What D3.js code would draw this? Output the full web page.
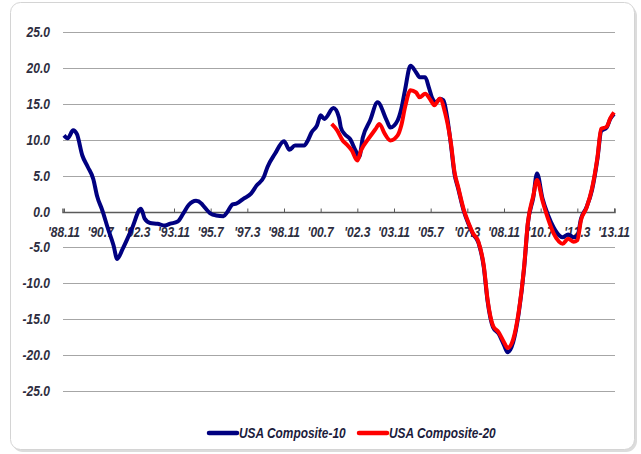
<!DOCTYPE html>
<html>
<head>
<meta charset="utf-8">
<script src="https://cdn.jsdelivr.net/npm/d3@7"></script>
<style>
  body { margin: 0; background: #fff; }
  svg text { font-family: "Liberation Sans", Arial, sans-serif; font-weight: bold; font-style: italic; }
</style>
</head>
<body>
<div id="chart"></div>
<script>
// month index counted from Nov 1988 (0) to Nov 2013 (300)
var tickMonths = [0, 20, 40, 60, 80, 100, 120, 140, 160, 180, 200, 220, 240, 260, 280, 300];
var tickLabels = ["'88.11", "'90.7", "'92.3", "'93.11", "'95.7", "'97.3", "'98.11", "'00.7",
                  "'02.3", "'03.11", "'05.7", "'07.3", "'08.11", "'10.7", "'12.3", "'13.11"];
var yTicks = [25, 20, 15, 10, 5, 0, -5, -10, -15, -20, -25];

// USA Composite-10 (YoY %)
var c10Month = [0, 2, 5, 7, 10, 13, 16, 18, 21, 24, 27, 29, 32, 37, 42, 44, 47, 51, 55, 58, 62, 65, 68, 72, 75, 76,
                80, 83, 87, 89, 92, 94, 98, 102, 105, 109, 111, 115, 120, 123, 126, 131, 133, 135, 138, 140, 142,
                147, 150, 151, 153, 156, 159, 161, 163, 167, 171, 176, 178, 182, 184, 186, 189, 192, 194, 197, 199,
                201, 203, 205, 207, 209, 211, 213, 215, 218, 221, 223, 226, 229, 231, 234, 237, 240, 242, 245,
                248, 251, 253, 256, 258, 261, 264, 267, 270, 272, 275, 278, 280, 282, 285, 288, 291, 293, 296, 298, 300];
var c10Value = [10.6, 10.2, 11.3, 10.8, 7.8, 6.2, 4.5, 2.2, 0.1, -2.4, -4.7, -6.6, -5.2, -2.4, 0.4, -1.0, -1.6, -1.7, -1.95,
                -1.7, -1.4, -0.3, 0.9, 1.5, 1.1, 0.8, -0.3, -0.55, -0.65, -0.1, 1.0, 1.1, 1.8, 2.5, 3.6, 4.8, 6.2, 8.0,
                9.8, 8.6, 9.2, 9.2, 9.9, 11.0, 12.0, 13.4, 12.9, 14.4, 13.1, 11.7, 10.8, 10.1, 8.5, 7.6, 10.3, 12.7,
                15.2, 12.7, 11.7, 12.7, 14.3, 16.9, 20.3, 19.4, 18.7, 18.7, 17.3, 15.7, 15.2, 15.7, 15.5, 13.1, 9.4,
                5.25, 3.2, 0.1, -1.95, -3.1, -4.3, -7.8, -12.4, -16.1, -17.0, -18.6, -19.6, -18.2, -14.2, -7.8, -1.7,
                2.0, 5.3, 1.8, -0.5, -2.2, -3.3, -3.6, -3.2, -3.6, -3.4, -1.0, 0.6, 3.0, 7.4, 11.2, 11.7, 12.9, 13.6];

// USA Composite-20 (YoY %), starts Jan 2001
var c20Month = [146, 149, 152, 154, 157, 160, 162, 166, 170, 172, 175, 178, 182, 184, 186, 189, 192, 194, 197, 200,
                202, 205, 208, 211, 213, 215, 218, 221, 223, 226, 229, 231, 234, 237, 240, 242, 245, 248, 251, 253,
                256, 258, 261, 264, 267, 270, 272, 275, 278, 280, 282, 285, 288, 291, 293, 296, 298, 300];
var c20Value = [12.2, 11.3, 9.9, 9.4, 8.5, 7.1, 8.5, 10.1, 11.5, 12.2, 10.8, 9.9, 10.6, 12.0, 14.5, 16.9, 16.6, 15.9,
                16.4, 15.5, 14.8, 15.7, 13.6, 9.6, 5.5, 3.4, 0.3, -1.8, -3.0, -4.2, -7.6, -12.2, -15.9, -16.8, -18.2,
                -19.0, -17.8, -14.0, -7.6, -1.6, 2.2, 4.4, 1.5, -1.0, -3.0, -4.2, -4.5, -3.8, -4.2, -4.0, -1.2, 0.5,
                3.2, 7.6, 11.5, 11.8, 13.0, 13.8];

var seriesNames = ["USA Composite-10", "USA Composite-20"];
var seriesColors = ["#000080", "#ff0000"];

var W = 641, H = 454;
var svg = d3.select("#chart").append("svg").attr("width", W).attr("height", H);

// narrow text: squeeze horizontally around the anchor point
function narrowText(sel, sx) {
    sel.attr("transform", function(d) {
        var t = d3.select(this);
        return "translate(" + t.attr("x") + "," + t.attr("y") + ") scale(" + sx + ",1)";
    }).attr("x", 0).attr("y", 0);
}

// frame with a soft shadow
svg.append("rect").attr("x", 12).attr("y", 5).attr("width", 625).attr("height", 447)
    .attr("rx", 11).attr("fill", "#dcdcdc");
svg.append("rect").attr("x", 10.5).attr("y", 2.5).attr("width", 624).attr("height", 447)
    .attr("rx", 10).attr("fill", "#fff").attr("stroke", "#d4d4d4");

var x = d3.scaleLinear().domain([0, 300]).range([64, 614]);
var y = d3.scaleLinear().domain([-25, 25]).range([391, 32]);

// gridlines
svg.append("g").selectAll("line").data(yTicks.filter(function(d) { return d !== 0; })).join("line")
    .attr("x1", 63).attr("x2", 615)
    .attr("y1", function(d) { return Math.round(y(d)) + 0.5; })
    .attr("y2", function(d) { return Math.round(y(d)) + 0.5; })
    .attr("stroke", "#a6a6a6").attr("stroke-width", 1);

// y labels
svg.append("g").selectAll("text").data(yTicks).join("text")
    .attr("x", 50).attr("y", function(d) { return y(d) + 5; })
    .attr("text-anchor", "end").attr("font-size", 14).attr("fill", "#2e2e40")
    .text(function(d) { return d.toFixed(1); })
    .call(narrowText, 0.86);

// x axis on zero line, ticks pointing up
var xAxis = d3.axisTop(x).tickValues(tickMonths).tickSize(4).tickFormat("");
var gx = svg.append("g").attr("transform", "translate(0," + (Math.round(y(0)) + 0.5) + ")").call(xAxis);
gx.select(".domain").attr("stroke", "#5a5a5a").attr("stroke-width", 1.5).attr("d", "M63,-4V0H615V-4");
gx.selectAll(".tick line").attr("stroke", "#5a5a5a");

svg.append("g").selectAll("text").data(tickMonths).join("text")
    .attr("x", function(d) { return x(d); }).attr("y", y(0) + 25)
    .attr("text-anchor", "middle").attr("font-size", 15).attr("fill", "#2e2e40")
    .text(function(d, i) { return tickLabels[i]; })
    .call(narrowText, 0.8);

// lines
var line = d3.line()
    .x(function(d) { return x(d[0]); })
    .y(function(d) { return y(d[1]); })
    .curve(d3.curveMonotoneX);

var s10 = c10Month.map(function(m, i) { return [m, c10Value[i]]; });
var s20 = c20Month.map(function(m, i) { return [m, c20Value[i]]; });

svg.append("path").datum(s10).attr("d", line).attr("fill", "none")
    .attr("stroke", seriesColors[0]).attr("stroke-width", 4).attr("stroke-linejoin", "round");
svg.append("path").datum(s20).attr("d", line).attr("fill", "none")
    .attr("stroke", seriesColors[1]).attr("stroke-width", 4).attr("stroke-linejoin", "round");

// legend
var legendX = [209, 359];
var lg = svg.append("g");
seriesNames.forEach(function(name, i) {
    lg.append("line").attr("x1", legendX[i]).attr("x2", legendX[i] + 28)
        .attr("y1", 433).attr("y2", 433)
        .attr("stroke", seriesColors[i]).attr("stroke-width", 4.5).attr("stroke-linecap", "round");
    lg.append("text").attr("x", legendX[i] + 30).attr("y", 438)
        .attr("font-size", 14).attr("fill", "#1c1c3c").text(name)
        .call(narrowText, 0.85);
});
</script>
</body>
</html>
